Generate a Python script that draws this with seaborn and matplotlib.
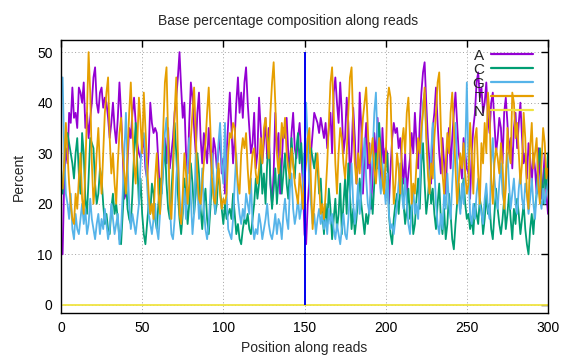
import matplotlib
matplotlib.use("Agg")
import matplotlib.pyplot as plt
import seaborn as sns
import pandas as pd

positions = list(range(1, 301))

a_pct = [
    10, 25, 31, 28, 38, 36, 43, 37, 38, 35, 43, 42, 40, 44, 35, 38, 33, 37, 40, 45, 47, 40, 38, 42, 43,
    39, 41, 40, 37, 33, 36, 40, 35, 32, 37, 44, 38, 30, 21, 22, 28, 35, 33, 38, 41, 36, 32, 30, 29, 31,
    33, 27, 25, 30, 40, 36, 34, 35, 34, 28, 22, 25, 30, 33, 28, 35, 27, 30, 33, 38, 41, 45, 50, 43, 37,
    40, 30, 26, 36, 44, 41, 35, 30, 38, 42, 33, 28, 34, 31, 28, 35, 30, 26, 33, 31, 27, 30, 34, 26, 29,
    22, 30, 36, 42, 35, 28, 33, 40, 45, 38, 42, 37, 44, 47, 40, 35, 30, 32, 38, 27, 30, 41, 35, 28, 32,
    37, 29, 35, 24, 20, 26, 38, 30, 34, 22, 28, 35, 33, 37, 30, 26, 34, 38, 31, 29, 33, 36, 30, 24, 14,
    12, 20, 25, 30, 34, 38, 37, 36, 34, 37, 35, 33, 36, 31, 35, 38, 30, 42, 45, 40, 36, 44, 38, 30, 33,
    41, 36, 25, 30, 39, 33, 24, 28, 42, 35, 22, 30, 36, 27, 32, 19, 26, 34, 28, 37, 30, 23, 35, 28, 31,
    30, 20, 27, 33, 36, 34, 35, 31, 33, 28, 24, 30, 22, 26, 29, 34, 30, 38, 32, 27, 36, 42, 46, 48, 40,
    33, 28, 24, 35, 38, 43, 36, 30, 26, 33, 28, 22, 31, 35, 27, 33, 38, 42, 36, 30, 28, 25, 33, 30, 27,
    26, 21, 30, 35, 38, 44, 46, 41, 43, 38, 40, 44, 37, 34, 40, 42, 36, 30, 33, 37, 35, 28, 38, 41, 36,
    30, 33, 27, 35, 38, 31, 36, 40, 33, 28, 30, 25, 32, 29, 24, 30, 27, 22, 31, 26, 21, 25, 30, 22, 18,
]

c_pct = [
    22, 28, 33, 34, 32, 30, 28, 25, 30, 33, 26, 22, 34, 30, 21, 18, 25, 33, 32, 31, 24, 20, 22, 27, 25,
    20, 16, 18, 15, 14, 19, 22, 18, 20, 17, 13, 12, 18, 24, 25, 19, 17, 16, 22, 30, 36, 28, 20, 25, 18,
    14, 12, 16, 20, 18, 24, 22, 17, 15, 20, 25, 22, 27, 32, 24, 19, 17, 22, 28, 36, 30, 22, 17, 14, 18,
    25, 21, 16, 20, 28, 24, 18, 22, 30, 26, 19, 15, 20, 23, 17, 14, 19, 25, 22, 18, 20, 27, 23, 19, 16,
    20, 17, 18, 19, 17, 22, 18, 14, 16, 13, 12, 15, 17, 16, 18, 15, 14, 17, 20, 25, 21, 24, 30, 22, 26,
    20, 28, 33, 24, 19, 23, 27, 20, 25, 29, 22, 26, 30, 24, 21, 27, 33, 28, 25, 31, 34, 28, 32, 26, 30,
    28, 33, 30, 31, 29, 27, 30, 28, 22, 25, 18, 14, 20, 16, 23, 19, 13, 17, 21, 15, 18, 24, 14, 20, 25,
    18, 28, 22, 15, 19, 14, 17, 21, 25, 20, 17, 14, 18, 16, 19, 22, 18, 24, 30, 27, 36, 30, 25, 22, 28,
    30, 18, 14, 12, 17, 20, 22, 18, 23, 25, 20, 16, 19, 23, 17, 20, 14, 16, 21, 25, 19, 28, 32, 24, 18,
    21, 26, 20, 23, 18, 15, 20, 24, 17, 14, 19, 13, 16, 22, 18, 13, 11, 16, 20, 24, 19, 22, 25, 20, 17,
    18, 15, 17, 14, 20, 18, 16, 21, 19, 14, 17, 22, 18, 20, 15, 13, 18, 23, 19, 16, 14, 17, 21, 15, 18,
    22, 17, 13, 19, 16, 21, 18, 14, 17, 20, 15, 12, 10, 15, 18, 14, 19, 22, 28, 31, 25, 20, 27, 23, 30,
]

g_pct = [
    45, 30, 22, 20, 17, 22, 15, 13, 18, 15, 14, 17, 20, 16, 19, 14, 16, 21, 17, 15, 13, 16, 18, 14, 17,
    15, 19, 16, 13, 15, 20, 17, 14, 16, 18, 12, 15, 22, 30, 38, 28, 20, 15, 18, 16, 14, 17, 20, 28, 33,
    34, 30, 24, 18, 16, 14, 17, 20, 15, 13, 18, 22, 28, 34, 37, 30, 20, 14, 13, 17, 25, 30, 22, 16, 19,
    23, 17, 28, 33, 21, 14, 18, 30, 24, 17, 20, 27, 19, 15, 13, 16, 22, 30, 25, 18, 26, 32, 36, 28, 24,
    36, 22, 15, 14, 13, 17, 24, 30, 21, 18, 16, 19, 17, 22, 20, 18, 25, 16, 13, 15, 14, 18, 16, 13, 15,
    17, 20, 16, 14, 13, 15, 18, 14, 17, 16, 13, 18, 21, 17, 15, 23, 26, 19, 16, 18, 21, 17, 19, 24, 30,
    40, 32, 24, 20, 16, 18, 14, 17, 19, 16, 18, 15, 17, 14, 19, 16, 18, 15, 13, 16, 14, 12, 15, 18, 14,
    13, 17, 22, 28, 20, 16, 19, 24, 18, 22, 28, 33, 25, 20, 18, 24, 30, 38, 42, 32, 26, 22, 28, 24, 20,
    26, 18, 15, 16, 14, 17, 20, 24, 28, 22, 19, 25, 20, 16, 14, 19, 23, 18, 20, 17, 24, 32, 40, 42, 34,
    28, 22, 30, 36, 27, 20, 16, 14, 18, 15, 22, 19, 26, 20, 17, 24, 30, 36, 28, 21, 18, 24, 20, 30, 44,
    28, 18, 16, 20, 17, 22, 25, 20, 18, 16, 21, 24, 19, 17, 28, 33, 25, 21, 19, 24, 28, 22, 20, 26, 30,
    24, 19, 22, 25, 20, 18, 23, 26, 21, 19, 24, 22, 18, 21, 25, 20, 17, 22, 26, 21, 19, 23, 20, 22, 24,
]

t_pct = [
    23, 28, 36, 30, 24, 20, 17, 16, 22, 19, 25, 30, 21, 18, 27, 38, 50, 42, 28, 20, 24, 30, 35, 27, 22,
    30, 38, 42, 45, 33, 26, 30, 24, 20, 28, 34, 37, 30, 26, 22, 30, 38, 44, 35, 28, 24, 32, 41, 36, 30,
    42, 35, 28, 22, 18, 20, 17, 25, 30, 22, 18, 26, 35, 44, 47, 33, 20, 17, 25, 38, 45, 30, 18, 16, 22,
    30, 26, 20, 24, 33, 38, 43, 34, 25, 21, 20, 24, 28, 32, 38, 43, 35, 25, 21, 20, 24, 28, 22, 19, 21,
    20, 22, 30, 34, 33, 36, 35, 28, 24, 22, 30, 33, 31, 34, 27, 22, 26, 30, 31, 26, 24, 27, 33, 28, 35,
    37, 33, 29, 38, 44, 48, 40, 30, 26, 30, 36, 33, 37, 30, 27, 25, 31, 28, 24, 22, 20, 26, 23, 19, 25,
    28, 33, 35, 24, 15, 20, 26, 30, 24, 18, 20, 17, 22, 28, 36, 44, 47, 38, 28, 22, 30, 35, 33, 28, 25,
    30, 38, 45, 47, 36, 28, 24, 30, 26, 32, 37, 40, 43, 35, 28, 30, 33, 27, 24, 29, 33, 28, 25, 22, 28,
    40, 43, 41, 30, 20, 24, 30, 27, 22, 32, 35, 30, 38, 41, 33, 20, 24, 22, 28, 33, 30, 35, 38, 43, 33,
    26, 22, 28, 25, 33, 38, 44, 46, 35, 26, 22, 28, 34, 30, 38, 42, 35, 27, 20, 24, 30, 27, 32, 26, 22,
    24, 36, 30, 22, 33, 35, 26, 20, 32, 28, 36, 30, 42, 38, 25, 20, 28, 31, 29, 26, 32, 28, 19, 23, 35,
    30, 28, 42, 40, 33, 36, 30, 24, 28, 38, 33, 22, 19, 31, 36, 27, 30, 33, 24, 20, 28, 35, 32, 25, 27,
]

n_pct = [0] * len(positions)

bases = ["A", "C", "G", "T", "N"]
base_colors = ["#9400d3", "#009e73", "#56b4e9", "#e69f00", "#f0e442"]
boundary_pos = 150
boundary_range = [0, 50]

x_ticks = [0, 50, 100, 150, 200, 250, 300]
y_ticks = [0, 10, 20, 30, 40, 50]

series = {"A": a_pct, "C": c_pct, "G": g_pct, "T": t_pct, "N": n_pct}
frames = []
for b in bases:
    frames.append(pd.DataFrame({"pos": positions, "pct": series[b], "base": b}))
df = pd.concat(frames, ignore_index=True)

sns.set_theme(style="white")
plt.rcParams["font.family"] = ["Liberation Sans", "DejaVu Sans"]

fig = plt.figure(figsize=(5.76, 3.60), dpi=100)
ax = fig.add_axes([61 / 576, 1 - 313 / 360, (548 - 61) / 576, (313 - 40) / 360])

sns.lineplot(data=df, x="pos", y="pct", hue="base", hue_order=bases,
             palette=dict(zip(bases, base_colors)), linewidth=1.3, ax=ax,
             estimator=None, errorbar=None)

ax.vlines(boundary_pos, boundary_range[0], boundary_range[1], color="#0000ee",
          linewidth=1.4, zorder=5)

ax.set_xlim(0, 300)
ax.set_ylim(-1.6, 52.4)
ax.set_xticks(x_ticks)
ax.set_yticks(y_ticks)
ax.grid(True, color="#a0a0a0", linestyle=(0, (1, 2.5)), linewidth=0.7)
ax.set_axisbelow(True)
for s in ax.spines.values():
    s.set_color("black")
    s.set_linewidth(1.0)
ax.tick_params(direction="in", length=5, width=1, top=True, right=True,
               labelsize=10, colors="black", pad=6)
ax.set_xlabel("Position along reads", fontsize=10, labelpad=4)
ax.set_ylabel("Percent", fontsize=10, labelpad=8)
fig.text(0.5, 1 - 21 / 360, "Base percentage composition along reads",
         ha="center", va="center", fontsize=10)

handles, labels = ax.get_legend_handles_labels()
leg = ax.legend(handles, labels, loc="upper right",
                bbox_to_anchor=(541 / 576, 1 - 41 / 360), bbox_transform=fig.transFigure,
                frameon=False, markerfirst=False, handlelength=2.75,
                handletextpad=0.45, labelspacing=0.0, borderpad=0.0, fontsize=11)
for line in leg.get_lines():
    line.set_linewidth(1.6)

fig.savefig("out.png", dpi=100)
